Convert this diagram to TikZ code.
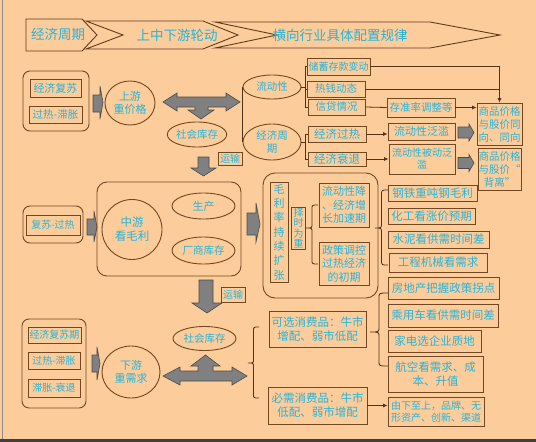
\documentclass[tikz,border=0pt]{standalone}
\usepackage{fontspec}
\newfontfamily\cjk{Noto Sans CJK SC}
\usetikzlibrary{shapes.geometric,arrows.meta}
\definecolor{bgc}{RGB}{252,204,155}
\definecolor{brn}{RGB}{115,72,32}
\definecolor{cyt}{RGB}{40,180,215}
\definecolor{gfill}{RGB}{128,128,128}
\definecolor{gline}{RGB}{75,75,75}
\newcommand{\mybrace}[6]{% xtip, xback, ytop, ymid, ybottom, radius
  \draw[ln] (#2,#3) .. controls ({(#1+#2)/2},#3) .. ({(#1+#2)/2},#3+#6)
   -- ({(#1+#2)/2},#4-#6) .. controls ({(#1+#2)/2},#4) .. (#1,#4)
   .. controls ({(#1+#2)/2},#4) .. ({(#1+#2)/2},#4+#6)
   -- ({(#1+#2)/2},#5-#6) .. controls ({(#1+#2)/2},#5) .. (#2,#5);}
\tikzset{
 bx/.style={draw=brn, line width=0.9pt, inner sep=0pt, align=center, text=cyt},
 el/.style={ellipse, draw=brn, line width=0.9pt, inner sep=0pt, align=center, text=cyt},
 grp/.style={draw=brn, line width=0.9pt, rounded corners=7pt},
 garr/.style={fill=gfill, draw=gline, line width=0.6pt},
 ln/.style={draw=brn!70!black, line width=0.8pt},
 ar/.style={ln, -{Latex[length=4.5pt,width=4pt]}},
 hdr/.style={draw=brn!85!black, line width=0.9pt},
 ht/.style={text=cyt, font=\cjk\fontsize{13.5}{15}\selectfont, inner sep=0pt},
 fa/.style={font=\cjk\fontsize{10}{12}\selectfont},
 fb/.style={font=\cjk\fontsize{10.5}{13}\selectfont},
 fc/.style={font=\cjk\fontsize{11}{13.5}\selectfont},
 fd/.style={font=\cjk\fontsize{11.5}{14}\selectfont},
}
\begin{document}
\begin{tikzpicture}[x=1pt,y=-1pt]
\useasboundingbox (0,0) rectangle (536,442);
\fill[bgc] (0,0) rectangle (536,442);
\fill[black!75] (0,439) rectangle (536,442);
\draw[black!45, line width=0.8pt] (2.5,0) -- (2.5,439);

% header
\draw[hdr] (26,19) -- (82,19) -- (97,35) -- (82,51) -- (26,51) -- cycle;
\draw[hdr] (86,21) -- (203,21) -- (238,35) -- (203,49) -- (86,49) -- (123,35) -- cycle;
\draw[hdr] (215,22) -- (430,22) -- (500,35) -- (430,48) -- (215,48) -- (277,35) -- cycle;
\node[ht] (h1) at (58,34) {经济周期};
\node[ht] (h2) at (177,35) {上中下游轮动};
\node[ht] (h3) at (340,35) {横向行业具体配置规律};

% upstream
\draw[grp] (23,71) rectangle (89,131);
\node[bx,fc,minimum width=51pt,minimum height=18pt] (u1) at (55.5,88) {经济复苏};
\node[bx,fb,minimum width=53pt,minimum height=17pt] (u2) at (55.5,114.5) {过热-滞胀};
\draw[garr] (93,95) -- (100,95) -- (100,86) -- (103,102.5) -- (100,119) -- (100,112) -- (93,112) -- cycle;
\node[el,fc,minimum width=50pt,minimum height=44pt] (up) at (130,103) {上游\\重价格};
\draw[garr] (163,102) -- (177,93) -- (177,97) -- (226,97) -- (226,93) -- (240,102) -- (226,111) -- (226,107) -- (208,107) -- (208,110) -- (214,110) -- (201,119) -- (188,110) -- (195,110) -- (195,107) -- (177,107) -- (177,111) -- cycle;
\node[el,fb,minimum width=54pt,minimum height=25pt] (sk1) at (197,134.5) {社会库存};
\node[bx,fa,minimum width=24pt,minimum height=13pt] (ys1) at (230,158.5) {运输};
\draw[garr] (198,157) -- (209,157) -- (209,168) -- (216,168) -- (203.5,176) -- (191,168) -- (198,168) -- cycle;

% liquidity / cycle
\node[el,fb,minimum width=58pt,minimum height=24pt] (lq) at (272,87) {流动性};
\node[el,fb,minimum width=58pt,minimum height=36pt] (jz) at (272,142) {经济周\\期};
\draw[ln] (lq.west) -- (jz.west);

\node[bx,fa,minimum width=63pt,minimum height=17pt] (cx) at (338.5,66.5) {储蓄存款变动};
\node[bx,fb,minimum width=58pt,minimum height=16pt] (rq) at (336,89) {热钱动态};
\node[bx,fb,minimum width=57pt,minimum height=16pt] (xd) at (336.5,107) {信贷情况};
\node[bx,fb,minimum width=68pt,minimum height=19pt] (cz) at (421,107.5) {存准率调整等};
\node[bx,fb,minimum width=45pt,minimum height=42pt] (sp1) at (499.5,124) {商品价格\\与股价同\\向、同向};
\node[bx,fd,minimum width=58pt,minimum height=16pt] (gr) at (337,134) {经济过热};
\node[bx,fd,minimum width=58pt,minimum height=14pt] (sh) at (337,159) {经济衰退};
\node[bx,fc,minimum width=67pt,minimum height=17pt] (lf) at (421.5,131.5) {流动性泛滥};
\node[bx,fa,minimum width=66pt,minimum height=30pt] (bl) at (422,159) {流动性被动泛\\滥};
\node[bx,fb,minimum width=43pt,minimum height=42pt] (sp2) at (499.5,169) {商品价格\\与股价“\\背离”};

\coordinate (bk) at (305,0);
\draw[ln] (lq.east) -- (lq.east -| bk);
\draw[ln] (cx.west) -- (cx.west -| bk) -- (xd.west -| bk) -- (xd.west);
\draw[ln] (rq.west -| bk) -- (rq.west);
\draw[ln] (jz.east) -- (jz.east -| bk);
\draw[ln] (gr.west) -- (gr.west -| bk) -- (sh.west -| bk) -- (sh.west);
\draw[ar] (cx.east) -| (sp1.north);
\draw[ln] (rq.east) -- (rq.east -| sp1.north);
\draw[ln] (xd.east) -- (cz.west);
\draw[ar] (cz.east) -- (cz.east -| sp1.west);
\draw[ar] (gr.east) -- (gr.east -| lf.west);
\draw[ar] (sh.east) -- (sh.east -| bl.west);
\draw[garr] (458,127) -- (469,127) -- (469,124) -- (474,132.5) -- (469,141) -- (469,138) -- (458,138) -- cycle;
\draw[garr] (458,157.5) -- (469,157.5) -- (469,154.5) -- (474,163) -- (469,171.5) -- (469,168.5) -- (458,168.5) -- cycle;

% midstream
\draw[grp] (23,206) rectangle (83,243);
\node[bx,fa,minimum width=54pt,minimum height=20pt] (m1) at (53,225) {复苏-过热};
\draw[garr] (87,219) -- (94,219) -- (94,211) -- (97,227) -- (94,242) -- (94,235) -- (87,235) -- cycle;
\draw[grp,rounded corners=10pt] (97,182) rectangle (241,276);
\node[el,fd,minimum width=60pt,minimum height=60pt] (mid) at (132,229.5) {中游\\看毛利};
\node[el,fc,minimum width=63pt,minimum height=26pt] (sc) at (203.5,206) {生产};
\node[el,fb,minimum width=63pt,minimum height=27pt] (cs) at (203.5,250.5) {厂商库存};
\draw[garr] (247,213) -- (256,213) -- (256,203) -- (260,224) -- (256,242) -- (256,235) -- (247,235) -- cycle;
\draw[garr] (199,280) -- (213,280) -- (213,303) -- (222,303) -- (207,313) -- (192,303) -- (199,303) -- cycle;
\node[bx,fa,minimum width=24pt,minimum height=15pt] (ys2) at (233,294.5) {运输};

\draw[grp,rounded corners=12pt] (263,173) rectangle (378,298);
\node[bx,font=\cjk\fontsize{11}{14.3}\selectfont,minimum width=18pt,minimum height=100pt] (ml) at (279,232) {毛\\利\\率\\持\\续\\扩\\张};
\node[bx,font=\cjk\fontsize{10}{10.5}\selectfont,minimum width=14pt,minimum height=42pt] (zs) at (298.5,228) {择\\时\\为\\重};
\mybrace{306}{318}{205}{228}{264}{4}
\node[bx,fc,minimum width=50pt,minimum height=44pt] (q1) at (344,205) {流动性降\\、经济增\\长加速期};
\node[bx,fc,minimum width=50pt,minimum height=43pt] (q2) at (344,263.5) {政策调控\\过热经济\\的初期};

\mybrace{375}{388}{190}{228}{265}{5}
\node[bx,fd,minimum width=89pt,minimum height=16pt] (i1) at (432.5,193) {钢铁重吨钢毛利};
\node[bx,fd,minimum width=87pt,minimum height=16pt] (i2) at (431.5,216) {化工看涨价预期};
\node[bx,fd,minimum width=101pt,minimum height=17pt] (i3) at (438.5,239.5) {水泥看供需时间差};
\node[bx,fd,minimum width=98pt,minimum height=19pt] (i4) at (438,262.5) {工程机械看需求};
\node[bx,fd,minimum width=111pt,minimum height=22pt] (i5) at (443.5,288) {房地产把握政策拐点};

% downstream
\draw[grp] (22,319) rectangle (86,408);
\node[bx,fa,minimum width=53pt,minimum height=16pt] (d1) at (54.5,335) {经济复苏期};
\node[bx,fa,minimum width=52pt,minimum height=17pt] (d2) at (54,360.5) {过热-滞胀};
\node[bx,fa,minimum width=52pt,minimum height=18pt] (d3) at (54,388) {滞胀-衰退};
\draw[garr] (92,355) -- (97,355) -- (97,347) -- (100,363.5) -- (97,380) -- (97,372) -- (92,372) -- cycle;
\node[el,fc,minimum width=58pt,minimum height=52pt] (dn) at (131,372) {下游\\重需求};
\node[el,fb,minimum width=63pt,minimum height=24pt] (sk2) at (204.5,338.5) {社会库存};
\draw[garr] (163,376) -- (180,367) -- (180,371) -- (198,371) -- (198,366) -- (191,366) -- (205.5,355) -- (220,366) -- (213,366) -- (213,371) -- (232,371) -- (232,367) -- (247,376) -- (232,385) -- (232,381) -- (180,381) -- (180,385) -- cycle;
\mybrace{248}{259}{327}{363}{398}{4}
\node[bx,fd,minimum width=97pt,minimum height=36pt] (kx) at (317.5,329) {可选消费品：牛市\\增配、弱市低配};
\node[bx,fd,minimum width=99pt,minimum height=37pt] (bxu) at (317.5,405.5) {必需消费品：牛市\\低配、弱市增配};
\mybrace{370}{388}{293}{332}{366}{5}
\node[bx,fd,minimum width=110pt,minimum height=23pt] (c1) at (443,315.5) {乘用车看供需时间差};
\node[bx,fd,minimum width=93pt,minimum height=22pt] (c2) at (434.5,341) {家电选企业质地};
\node[bx,fd,minimum width=95pt,minimum height=36pt] (c3) at (435.5,374) {航空看需求、成\\本、升值};
\node[bx,fa,minimum width=96pt,minimum height=29pt] (c4) at (436,411.5) {由下至上，品牌、无\\形资产、创新、渠道};
\draw[ar] (bxu.east) -- (bxu.east -| c4.west);
\end{tikzpicture}
\end{document}
